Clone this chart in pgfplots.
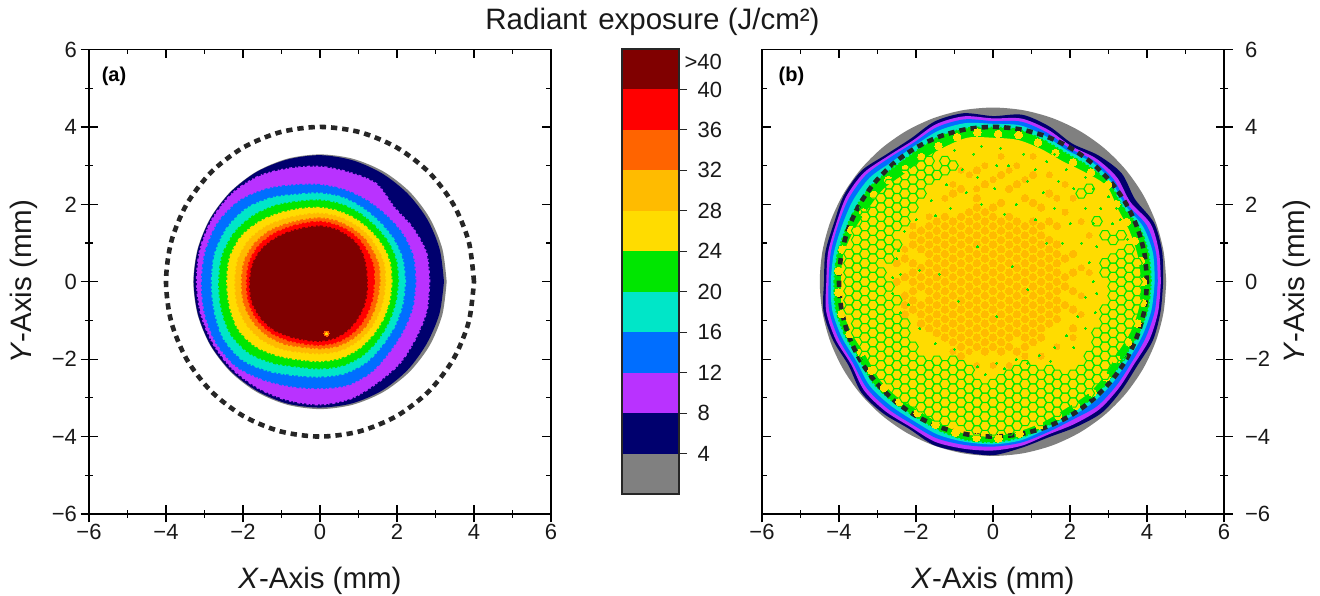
\documentclass[border=0pt]{standalone}
\usepackage{pgfplots}
\usepackage{pgfplotstable}
\usepackage{fontspec}
\setmainfont{Liberation Sans}
\pgfplotsset{compat=1.18}
\definecolor{cG}{RGB}{128,128,128}
\definecolor{cN}{RGB}{0,0,110}
\definecolor{cP}{RGB}{185,50,255}
\definecolor{cB}{RGB}{0,110,255}
\definecolor{cT}{RGB}{0,230,200}
\definecolor{cV}{RGB}{0,230,0}
\definecolor{cY}{RGB}{255,220,0}
\definecolor{cA}{RGB}{255,187,0}
\definecolor{cO}{RGB}{255,100,0}
\definecolor{cR}{RGB}{255,0,0}
\definecolor{cM}{RGB}{128,0,0}
\definecolor{cK}{RGB}{38,38,38}
\pgfdeclareplotmark{hexa}{%
 \pgfpathmoveto{\pgfqpoint{5.33pt}{0pt}}%
 \pgfpathlineto{\pgfqpoint{2.67pt}{4.62pt}}%
 \pgfpathlineto{\pgfqpoint{-2.67pt}{4.62pt}}%
 \pgfpathlineto{\pgfqpoint{-5.33pt}{0pt}}%
 \pgfpathlineto{\pgfqpoint{-2.67pt}{-4.62pt}}%
 \pgfpathlineto{\pgfqpoint{2.67pt}{-4.62pt}}%
 \pgfpathclose\pgfusepathqstroke}
\pgfplotstableread{
a n p b t v y a2 o r m g d
0 3.22 2.84 2.48 2.21 2.03 1.86 1.69 1.55 1.4 1.22 3.29 4
15 3.22 2.86 2.5 2.22 2.05 1.88 1.72 1.58 1.44 1.24 3.29 4
30 3.22 2.78 2.47 2.2 2.04 1.87 1.71 1.58 1.45 1.3 3.29 4
45 3.22 2.72 2.42 2.18 2.02 1.85 1.72 1.6 1.48 1.36 3.29 4
60 3.23 2.92 2.42 2.2 2.04 1.86 1.72 1.6 1.5 1.38 3.29 4
75 3.25 2.92 2.45 2.25 2.07 1.88 1.74 1.62 1.52 1.41 3.29 4
90 3.27 2.97 2.5 2.28 2.1 1.91 1.76 1.64 1.55 1.43 3.29 4
105 3.27 3.03 2.58 2.33 2.14 1.95 1.78 1.65 1.56 1.44 3.29 4
120 3.28 3.15 2.76 2.5 2.27 2.05 1.86 1.72 1.62 1.5 3.29 4
135 3.28 3.22 2.95 2.68 2.42 2.2 2 1.85 1.73 1.6 3.29 4
150 3.28 3.23 3.05 2.78 2.55 2.35 2.13 1.96 1.84 1.72 3.29 4
165 3.28 3.22 3.07 2.82 2.62 2.42 2.2 2.03 1.9 1.8 3.29 4
180 3.28 3.2 3.07 2.81 2.62 2.41 2.2 2.03 1.9 1.82 3.29 4
195 3.28 3.2 3.1 2.84 2.65 2.43 2.22 2.05 1.92 1.84 3.29 4
210 3.28 3.2 3.12 2.9 2.68 2.45 2.2 2.02 1.9 1.8 3.29 4
225 3.27 3.2 3.08 2.85 2.6 2.36 2.12 1.95 1.83 1.73 3.29 4
240 3.26 3.18 2.92 2.66 2.42 2.2 2 1.85 1.73 1.62 3.29 4
255 3.26 3.17 2.8 2.5 2.27 2.08 1.88 1.74 1.65 1.55 3.29 4
270 3.25 3.17 2.75 2.45 2.24 2.05 1.85 1.72 1.63 1.53 3.29 4
285 3.25 3.12 2.76 2.45 2.24 2.04 1.85 1.72 1.62 1.5 3.29 4
300 3.24 3 2.68 2.4 2.2 2 1.82 1.69 1.58 1.44 3.29 4
315 3.22 2.95 2.55 2.3 2.12 1.94 1.78 1.65 1.52 1.36 3.29 4
330 3.2 2.88 2.5 2.25 2.06 1.9 1.73 1.59 1.46 1.3 3.29 4
345 3.21 2.87 2.49 2.22 2.03 1.87 1.7 1.55 1.42 1.25 3.29 4
360 3.22 2.84 2.48 2.21 2.03 1.86 1.69 1.55 1.4 1.22 3.29 4
}\tA
\pgfplotstableread{
a n p b t v y g d
0 4.42 4.36 4.28 4.2 4.1 3.85 4.5 4
10 4.46 4.38 4.3 4.22 4.1 3.82 4.5 4
20 4.45 4.36 4.25 4.15 4.05 3.78 4.5 4
30 4.26 4.12 4.02 3.96 3.88 3.75 4.5 4
40 4.36 4.2 4.1 4.02 3.95 3.85 4.5 4
50 4.26 4.16 4.08 4.02 3.88 3.7 4.5 4
60 4.12 4.05 3.98 3.9 3.82 3.6 4.5 4
70 4.27 4.18 4.1 4 3.88 3.65 4.5 4
80 4.38 4.28 4.2 4.1 3.98 3.72 4.5 4
90 4.28 4.22 4.15 4.08 3.98 3.72 4.5 4
100 4.42 4.34 4.26 4.16 4.02 3.78 4.5 4
110 4.41 4.33 4.25 4.15 4 3.7 4.5 4
120 4.27 4.2 4.14 4.06 3.92 3.65 4.5 4
130 4.3 4.24 4.18 4.06 3.9 3.62 4.5 4
140 4.46 4.38 4.3 4.18 4 3.72 4.5 4
150 4.47 4.4 4.32 4.2 4.04 3.75 4.5 4
160 4.4 4.34 4.28 4.18 4.05 3.85 4.5 4
170 4.42 4.35 4.28 4.2 4.1 3.95 4.5 4
180 4.39 4.33 4.27 4.21 4.12 3.95 4.5 4
190 4.47 4.4 4.32 4.24 4.14 3.98 4.5 4
200 4.42 4.35 4.27 4.18 4.08 3.9 4.5 4
210 4.33 4.26 4.2 4.1 4 3.82 4.5 4
220 4.46 4.37 4.28 4.18 4.06 3.88 4.5 4
230 4.44 4.36 4.27 4.16 4.04 3.88 4.5 4
240 4.38 4.32 4.24 4.14 4.02 3.85 4.5 4
250 4.49 4.4 4.3 4.2 4.08 3.92 4.5 4
260 4.47 4.38 4.28 4.2 4.14 4 4.5 4
270 4.48 4.36 4.26 4.2 4.14 4 4.5 4
280 4.35 4.3 4.22 4.16 4.08 3.92 4.5 4
290 4.27 4.2 4.14 4.05 3.98 3.85 4.5 4
300 4.33 4.24 4.12 4.03 3.94 3.78 4.5 4
310 4.41 4.3 4.2 4.06 3.95 3.8 4.5 4
320 4.36 4.27 4.18 4.06 3.95 3.78 4.5 4
330 4.33 4.24 4.16 4.05 3.92 3.72 4.5 4
340 4.42 4.33 4.22 4.12 4 3.8 4.5 4
350 4.42 4.36 4.27 4.18 4.08 3.85 4.5 4
360 4.42 4.36 4.28 4.2 4.1 3.85 4.5 4
}\tB
\pgfplotstableread[row sep=\\]{
a r\\
0 3.9\\8 3.88\\16 3.83\\24 3.8\\32 3.78\\40 3.9\\48 3.8\\56 3.72\\64 3.7\\72 3.78\\80 3.85\\88 3.82\\96 3.88\\104 3.85\\112 3.78\\120 3.72\\128 3.7\\136 3.78\\144 3.82\\152 3.82\\160 3.92\\168 4\\176 4.02\\184 4.02\\192 4.02\\200 3.96\\208 3.88\\216 3.9\\224 3.94\\232 3.94\\240 3.92\\248 3.98\\256 4.02\\264 4.05\\272 4.05\\280 3.98\\288 3.9\\296 3.85\\304 3.86\\312 3.86\\320 3.84\\328 3.78\\336 3.84\\344 3.9\\352 3.92\\
}\tD
\pgfplotstableread[row sep=\\]{
x y\\
-3.74 0\\-3.74 .24\\-3.74 -.24\\-3.74 .48\\-3.74 -.48\\-3.74 .72\\-3.74 -.72\\
-3.54 .12\\-3.54 -.12\\-3.54 .36\\-3.54 -.36\\-3.54 .6\\-3.54 -.6\\-3.54 .84\\-3.54 -.84\\-3.54 1.08\\-3.54 -1.08\\-3.54 1.32\\-3.54 -1.32\\
-3.33 0\\-3.33 .24\\-3.33 -.24\\-3.33 .48\\-3.33 -.48\\-3.33 .72\\-3.33 -.72\\-3.33 .96\\-3.33 -.96\\-3.33 1.2\\-3.33 -1.2\\-3.33 1.44\\-3.33 -1.44\\-3.33 1.68\\-3.33 -1.68\\-3.33 1.92\\-3.33 -1.92\\
-3.12 .12\\-3.12 -.12\\-3.12 .36\\-3.12 -.36\\-3.12 .6\\-3.12 -.6\\-3.12 .84\\-3.12 -.84\\-3.12 1.08\\-3.12 -1.08\\-3.12 1.32\\-3.12 -1.32\\-3.12 1.56\\-3.12 -1.56\\-3.12 1.8\\-3.12 -1.8\\-3.12 2.04\\-3.12 -2.04\\
-2.91 0\\-2.91 .24\\-2.91 -.24\\-2.91 .72\\-2.91 -.48\\-2.91 .96\\-2.91 -.72\\-2.91 1.2\\-2.91 -.96\\-2.91 1.44\\-2.91 -1.2\\-2.91 1.68\\-2.91 -1.44\\-2.91 1.92\\-2.91 -1.68\\-2.91 2.16\\-2.91 -1.92\\-2.91 2.4\\-2.91 -2.16\\-2.91 -2.4\\
-2.7 -.12\\-2.7 .6\\-2.7 -.6\\-2.7 .84\\-2.7 -.84\\-2.7 1.08\\-2.7 -1.08\\-2.7 1.32\\-2.7 -1.32\\-2.7 1.56\\-2.7 -1.56\\-2.7 1.8\\-2.7 -1.8\\-2.7 2.04\\-2.7 -2.04\\-2.7 2.28\\-2.7 -2.28\\-2.7 2.52\\-2.7 -2.52\\
-2.5 -.48\\-2.5 .96\\-2.5 -.96\\-2.5 1.44\\-2.5 -1.2\\-2.5 1.68\\-2.5 -1.44\\-2.5 1.92\\-2.5 -1.68\\-2.5 2.16\\-2.5 -1.92\\-2.5 2.4\\-2.5 -2.16\\-2.5 2.64\\-2.5 -2.4\\-2.5 2.88\\-2.5 -2.64\\-2.5 -2.88\\
-2.29 1.56\\-2.29 -1.08\\-2.29 1.8\\-2.29 -1.32\\-2.29 2.04\\-2.29 -1.56\\-2.29 2.28\\-2.29 -1.8\\-2.29 2.52\\-2.29 -2.04\\-2.29 2.76\\-2.29 -2.28\\-2.29 3\\-2.29 -2.52\\-2.29 -2.76\\-2.29 -3\\
-2.08 1.92\\-2.08 -1.68\\-2.08 2.16\\-2.08 -1.92\\-2.08 2.4\\-2.08 -2.16\\-2.08 2.64\\-2.08 -2.4\\-2.08 2.88\\-2.08 -2.64\\-2.08 3.12\\-2.08 -2.88\\-2.08 -3.12\\
-1.87 2.28\\-1.87 -2.04\\-1.87 2.52\\-1.87 -2.28\\-1.87 2.76\\-1.87 -2.52\\-1.87 3\\-1.87 -2.76\\-1.87 3.24\\-1.87 -3\\-1.87 -3.24\\
-1.66 2.64\\-1.66 -2.16\\-1.66 2.88\\-1.66 -2.4\\-1.66 3.12\\-1.66 -2.64\\-1.66 3.36\\-1.66 -2.88\\-1.66 -3.12\\-1.66 -3.36\\
-1.46 -2.04\\-1.46 -2.28\\-1.46 -2.52\\-1.46 -2.76\\-1.46 -3\\-1.46 -3.24\\-1.46 -3.48\\
-1.25 -2.16\\-1.25 -2.4\\-1.25 -2.64\\-1.25 -2.88\\-1.25 -3.12\\-1.25 -3.36\\-1.25 -3.6\\
-1.04 -2.04\\-1.04 -2.28\\-1.04 -2.52\\-1.04 -2.76\\-1.04 -3\\-1.04 -3.24\\-1.04 -3.48\\
-.83 -2.16\\-.83 -2.4\\-.83 -2.64\\-.83 -2.88\\-.83 -3.12\\-.83 -3.36\\-.83 -3.6\\
-.62 -2.28\\-.62 -2.52\\-.62 -2.76\\-.62 -3\\-.62 -3.24\\-.62 -3.48\\-.62 -3.72\\
-.42 -2.64\\-.42 -2.88\\-.42 -3.12\\-.42 -3.36\\-.42 -3.6\\-.42 -3.84\\
-.21 -2.76\\-.21 -3\\-.21 -3.24\\-.21 -3.48\\-.21 -3.72\\
0 -2.64\\0 -2.88\\0 -3.12\\0 -3.36\\0 -3.6\\0 -3.84\\
.21 -2.52\\.21 -2.76\\.21 -3\\.21 -3.24\\.21 -3.48\\.21 -3.72\\
.42 -2.4\\.42 -2.64\\.42 -2.88\\.42 -3.12\\.42 -3.36\\.42 -3.6\\.42 -3.84\\
.62 -2.28\\.62 -2.52\\.62 -2.76\\.62 -3\\.62 -3.24\\.62 -3.48\\.62 -3.72\\
.83 -2.16\\.83 -2.4\\.83 -2.64\\.83 -2.88\\.83 -3.12\\.83 -3.36\\.83 -3.6\\
1.04 -2.28\\1.04 -2.52\\1.04 -2.76\\1.04 -3\\1.04 -3.24\\1.04 -3.48\\
1.25 -2.4\\1.25 -2.64\\1.25 -2.88\\1.25 -3.12\\1.25 -3.36\\1.25 -3.6\\
1.46 -2.28\\1.46 -2.52\\1.46 -2.76\\1.46 -3\\1.46 -3.24\\1.46 -3.48\\
1.66 -2.4\\1.66 -2.64\\1.66 -2.88\\1.66 -3.12\\1.66 -3.36\\
1.87 -2.52\\1.87 -2.76\\1.87 -3\\1.87 -3.24\\
2.08 -2.4\\2.08 -2.64\\2.08 -2.88\\2.08 -3.12\\
2.29 -2.28\\2.29 -2.52\\2.29 -2.76\\2.29 -3\\
2.5 -1.92\\2.5 -2.16\\2.5 -2.4\\2.5 -2.64\\2.5 -2.88\\
2.7 -1.32\\2.7 -1.56\\2.7 -1.8\\2.7 -2.04\\2.7 -2.28\\2.7 -2.52\\
2.91 .48\\2.91 .24\\2.91 -.72\\2.91 -.96\\2.91 -1.2\\2.91 -1.44\\2.91 -1.68\\2.91 -1.92\\2.91 -2.16\\2.91 -2.4\\
3.12 .6\\3.12 .36\\3.12 .12\\3.12 -.12\\3.12 -.36\\3.12 -.6\\3.12 -.84\\3.12 -1.08\\3.12 -1.32\\3.12 -1.56\\3.12 -1.8\\3.12 -2.04\\
3.33 .72\\3.33 .48\\3.33 .24\\3.33 0\\3.33 -.24\\3.33 -.48\\3.33 -.72\\3.33 -.96\\3.33 -1.2\\3.33 -1.44\\3.33 -1.68\\3.33 -1.92\\
3.54 .84\\3.54 .6\\3.54 .36\\3.54 .12\\3.54 -.12\\3.54 -.36\\3.54 -.6\\3.54 -.84\\3.54 -1.08\\3.54 -1.32\\
3.74 .48\\3.74 .24\\3.74 0\\3.74 -.24\\3.74 -.48\\3.74 -.72\\
-1.46 2.76\\-1.25 2.88\\-1.25 3.12\\-1.04 3\\2.29 2.28\\2.5 2.4\\2.7 1.56\\2.91 1.2\\3.12 1.08\\3.33 1.2\\
}\tH
\pgfplotstableread[row sep=\\]{
x y\\
-2.29 .12\\-2.29 -.36\\-2.29 .6\\
-2.08 0\\-2.08 .24\\-2.08 -.24\\-2.08 .48\\-2.08 -.72\\-2.08 .96\\
-1.87 .12\\-1.87 -.12\\-1.87 .36\\-1.87 -.6\\-1.87 .84\\-1.87 -.84\\-1.87 1.08\\
-1.66 0\\-1.66 .24\\-1.66 -.24\\-1.66 .48\\-1.66 -.48\\-1.66 .72\\-1.66 -.72\\-1.66 .96\\-1.66 -.96\\-1.66 1.2\\
-1.46 .12\\-1.46 -.12\\-1.46 .36\\-1.46 -.36\\-1.46 .6\\-1.46 -.6\\-1.46 .84\\-1.46 -.84\\-1.46 1.08\\-1.46 -1.08\\-1.46 1.32\\
-1.25 0\\-1.25 .24\\-1.25 -.24\\-1.25 .48\\-1.25 -.48\\-1.25 .72\\-1.25 -.72\\-1.25 .96\\-1.25 -.96\\-1.25 1.2\\-1.25 -1.2\\-1.25 1.44\\
-1.04 .12\\-1.04 -.12\\-1.04 .36\\-1.04 -.36\\-1.04 .6\\-1.04 -.6\\-1.04 .84\\-1.04 -.84\\-1.04 1.08\\-1.04 -1.08\\-1.04 1.32\\-1.04 -1.32\\-1.04 1.56\\
-.83 0\\-.83 .24\\-.83 -.24\\-.83 .48\\-.83 -.48\\-.83 .72\\-.83 -.72\\-.83 .96\\-.83 -.96\\-.83 1.2\\-.83 -1.2\\-.83 1.44\\-.83 -1.44\\
-.62 .12\\-.62 -.12\\-.62 .36\\-.62 -.36\\-.62 .6\\-.62 -.6\\-.62 .84\\-.62 -.84\\-.62 1.08\\-.62 -1.08\\-.62 1.32\\-.62 -1.32\\-.62 1.56\\-.62 -1.56\\
-.42 0\\-.42 .24\\-.42 -.24\\-.42 .48\\-.42 -.48\\-.42 .72\\-.42 -.72\\-.42 .96\\-.42 -.96\\-.42 1.2\\-.42 -1.2\\-.42 1.44\\-.42 -1.44\\-.42 1.68\\-.42 -1.68\\
-.21 .12\\-.21 -.12\\-.21 .36\\-.21 -.36\\-.21 .6\\-.21 -.6\\-.21 .84\\-.21 -.84\\-.21 1.08\\-.21 -1.08\\-.21 1.32\\-.21 -1.32\\-.21 1.56\\-.21 -1.56\\
0 0\\0 .24\\0 -.24\\0 .48\\0 -.48\\0 .72\\0 -.72\\0 .96\\0 -.96\\0 1.2\\0 -1.2\\0 1.44\\0 -1.44\\0 1.68\\0 -1.68\\
.21 .12\\.21 -.12\\.21 .36\\.21 -.36\\.21 .6\\.21 -.6\\.21 .84\\.21 -.84\\.21 1.08\\.21 -1.08\\.21 1.32\\.21 -1.32\\.21 1.56\\.21 -1.56\\
.42 0\\.42 .24\\.42 -.24\\.42 .48\\.42 -.48\\.42 .72\\.42 -.72\\.42 .96\\.42 -.96\\.42 1.2\\.42 -1.2\\.42 1.44\\.42 -1.44\\
.62 .12\\.62 -.12\\.62 .36\\.62 -.36\\.62 .6\\.62 -.6\\.62 .84\\.62 -.84\\.62 1.08\\.62 -1.08\\.62 1.32\\.62 -1.32\\
.83 0\\.83 .24\\.83 -.24\\.83 .48\\.83 -.48\\.83 .72\\.83 -.72\\.83 .96\\.83 -.96\\.83 1.2\\.83 -1.2\\.83 1.44\\.83 -1.44\\
1.04 .12\\1.04 -.12\\1.04 .36\\1.04 -.36\\1.04 .6\\1.04 -.6\\1.04 .84\\1.04 -.84\\1.04 1.08\\1.04 -1.08\\1.04 1.32\\1.04 -1.32\\
1.25 0\\1.25 .24\\1.25 -.24\\1.25 .48\\1.25 -.48\\1.25 .72\\1.25 -.72\\1.25 .96\\1.25 -.96\\1.25 1.2\\1.25 -1.2\\
1.46 .12\\1.46 -.12\\1.46 .36\\1.46 -.36\\1.46 .6\\1.46 -.6\\1.46 .84\\1.46 -.84\\
1.66 0\\1.66 .24\\1.66 -.24\\1.66 .48\\1.66 -.48\\1.66 .72\\1.66 -.72\\
.21 2.04\\-.42 2.16\\1.04 2.04\\-1.04 2.28\\1.46 1.56\\-.62 1.8\\2.08 .72\\2.08 -.24\\2.08 -1.2\\-2.29 -.84\\-.83 -1.92\\.62 -1.8\\
-2.5 .48\\-2.5 0\\-2.29 -.6\\-2.08 -.48\\-1.87 -1.08\\-1.66 -1.2\\-1.46 -1.32\\-1.25 -1.44\\-1.04 -1.56\\-.83 -1.68\\-.21 -1.8\\.21 -1.8\\.42 -1.68\\.83 -1.68\\1.04 -1.56\\1.25 -1.44\\1.46 -1.08\\1.66 -.96\\1.87 -.6\\1.87 .12\\1.87 .6\\1.87 -.12\\1.66 .96\\1.46 1.08\\1.25 1.44\\1.04 1.56\\.62 1.56\\.42 1.68\\0 1.92\\-.21 1.8\\-.42 1.92\\-.83 1.68\\-1.25 1.68\\-1.46 1.56\\-1.66 1.44\\-1.87 1.32\\-2.08 1.2\\2.08 .24\\2.08 -.72\\-.83 2.4\\.42 2.4\\.83 2.16\\-.21 2.52\\1.25 1.92\\1.66 1.44\\.21 2.76\\.62 2.52\\-.42 2.88\\1.04 2.76\\1.46 2.28\\
}\tC
\pgfplotstableread[row sep=\\]{
x y\\
-.21 3\\.21 3.24\\.62 3\\1.04 3.24\\1.46 2.76\\1.87 2.52\\2.08 2.16\\1.66 2.16\\2.29 1.56\\2.5 1.2\\1.87 1.8\\-.62 2.76\\-.83 2.88\\-1.04 2.52\\-1.25 2.16\\-1.66 1.68\\-2.08 1.44\\-2.29 .84\\-.42 2.4\\0 2.64\\.42 2.88\\.83 2.64\\2.29 .36\\2.5 .24\\2.29 -.36\\2.29 -.84\\2.08 -1.44\\1.66 -1.68\\1.25 -1.92\\.83 -1.92\\.42 -2.16\\0 -2.16\\-.42 -2.16\\-.62 -1.8\\-1.04 -1.8\\
}\tE
\pgfplotstableread[row sep=\\]{
x y\\
-1.9 .3\\-1.5 1.7\\-1.1 1.9\\-.7 2.3\\-.4 2.7\\.05 2.4\\.4 3\\.9 2.6\\1.3 2.3\\1.6 1.9\\2 1.5\\2.3 1\\2.5 .5\\2.6 0\\2.4 -.4\\2.2 -.9\\1.9 -1.4\\1.6 -1.7\\1.2 -1.9\\.6 -2\\.1 -2.1\\-.4 -2.2\\-1 -1.75\\-1.5 -1.6\\-1.9 -1.2\\-2.2 -.6\\-2.4 .2\\-2.45 .8\\-1.4 .2\\-.9 -.5\\-.4 .9\\.1 -.9\\.5 .4\\.9 -.2\\1.4 1\\1.1 1.6\\.3 1.75\\-.3 2\\1.8 1\\2.8 1.9\\3 2.2\\2.4 2.7\\1.9 2.9\\1.4 3.1\\.8 3.3\\.2 3.45\\-.5 3.3\\-1 3.4\\3.3 1.6\\3.5 1.1\\
2.6 1.5\\2.7 .9\\2.4 1.9\\2.1 2.4\\1.7 2.6\\1.1 2.9\\.6 2\\.1 3\\-.3 3.5\\-.8 2.9\\-1.2 2.5\\-1.6 2.1\\-2 1.6\\-2.3 1.3\\-2.5 .6\\-2.6 .1\\-2.6 -.3\\-2.4 -.8\\2.7 -.3\\2.65 -.8\\2.4 -1.2\\2.1 -1.7\\1.5 -2.05\\.9 -2.1\\.3 -2.25\\-.2 -2.4\\3.1 1.5\\3.2 1.9\\2.6 2.4\\2.2 3\\1.6 3.3\\
}\tS
\pgfplotsset{
 base/.style={scale only axis,width=462pt,height=464.5pt,xmin=-6,xmax=6,ymin=-6,ymax=6,
  xtick={-6,-4,...,6},ytick={-6,-4,...,6},minor x tick num=1,minor y tick num=1,
  axis line style={line width=1.5pt,black},
  major tick style={line width=1.3pt,black},minor tick style={line width=1.1pt,black}},
 crossed/.style={base,tick align=center,major tick length=17pt,minor tick length=8pt,
  xticklabels={−6,−4,−2,0,2,4,6},
  ticklabel style={font=\fontsize{22}{24}\selectfont,text=black!90},
  xticklabel style={yshift=2pt},
  xlabel={\textit{X}-Axis (mm)},ylabel={\textit{Y}-Axis (mm)},
  label style={font=\fontsize{29.5}{31}\selectfont,text=black!90}},
 inner/.style={base,tick align=inside,major tick length=9pt,minor tick length=5pt,xticklabels={},yticklabels={}},
 lvl/.style={data cs=polar,smooth,draw=none,fill=#1,forget plot},
 rough/.style={data cs=polar,smooth,draw=#1,fill=#1,line width=2pt,dash pattern=on 2.3pt off 1.7pt on 1.4pt off 2.9pt on 3.1pt off 2pt on 1.6pt off 2.6pt,forget plot},
 dots/.style={only marks,mark=*,mark size=#1},
}
\begin{document}
\begin{tikzpicture}[x=1pt,y=1pt]
\useasboundingbox (0,0) rectangle (1320,596);
% panel (a)
\begin{axis}[crossed,at={(89pt,82pt)},anchor=south west,xtick pos=bottom,ytick pos=left,
  yticklabels={−6,−4,−2,0,2,4,6},
  ylabel style={at={(axis description cs:0,0.5)},yshift=48pt},xlabel style={yshift=-21pt}]
\addplot[lvl=cG] table[x=a,y=g]{\tA};
\addplot[lvl=cN] table[x=a,y=n]{\tA};
\addplot[rough=cP] table[x=a,y=p]{\tA};
\addplot[rough=cB] table[x=a,y=b]{\tA};
\addplot[rough=cT] table[x=a,y=t]{\tA};
\addplot[rough=cV] table[x=a,y=v]{\tA};
\addplot[rough=cY] table[x=a,y=y]{\tA};
\addplot[rough=cA] table[x=a,y=a2]{\tA};
\addplot[rough=cO] table[x=a,y=o]{\tA};
\addplot[rough=cR] table[x=a,y=r]{\tA};
\addplot[rough=cM] table[x=a,y=m]{\tA};
\addplot[dots=2.6pt,mark options={draw=cO,fill=cO,line width=0pt}] coordinates {(0.17,-1.34)};
\addplot[dots=1.3pt,mark options={draw=cY,fill=cY,line width=0pt}] coordinates {(0.17,-1.34)};
\addplot[data cs=polar,smooth,cK,line width=4.6pt,dash pattern=on 6.3pt off 4.95pt] table[x=a,y=d]{\tA};
\end{axis}
\begin{axis}[inner,at={(89pt,82pt)},anchor=south west,xtick pos=top,ytick pos=right]
\end{axis}
\node[font=\fontsize{20}{22}\selectfont\bfseries,anchor=center] at (114,520) {(a)};
% colour bar
\begin{axis}[scale only axis,width=57pt,height=445pt,at={(622pt,102pt)},anchor=south west,
  xmin=0,xmax=1,ymin=0,ymax=44,xtick=\empty,
  ytick={4,8,...,40},yticklabels={4,8,12,16,20,24,28,32,36,40},
  ytick pos=right,tick align=outside,major tick length=8pt,
  major tick style={line width=1pt,black!85},
  axis line style={line width=1.2pt,black!85},axis on top,
  yticklabel style={anchor=west,xshift=7pt,font=\fontsize{22}{24}\selectfont,text=black!90},
  extra y ticks={42.7},extra y tick labels={>40},
  extra y tick style={major tick length=0pt,yticklabel style={xshift=-5pt}}]
\addplot[fill=cG,draw=none] coordinates {(0,0)(1,0)(1,4)(0,4)} --cycle;
\addplot[fill=cN,draw=none] coordinates {(0,4)(1,4)(1,8)(0,8)} --cycle;
\addplot[fill=cP,draw=none] coordinates {(0,8)(1,8)(1,12)(0,12)} --cycle;
\addplot[fill=cB,draw=none] coordinates {(0,12)(1,12)(1,16)(0,16)} --cycle;
\addplot[fill=cT,draw=none] coordinates {(0,16)(1,16)(1,20)(0,20)} --cycle;
\addplot[fill=cV,draw=none] coordinates {(0,20)(1,20)(1,24)(0,24)} --cycle;
\addplot[fill=cY,draw=none] coordinates {(0,24)(1,24)(1,28)(0,28)} --cycle;
\addplot[fill=cA,draw=none] coordinates {(0,28)(1,28)(1,32)(0,32)} --cycle;
\addplot[fill=cO,draw=none] coordinates {(0,32)(1,32)(1,36)(0,36)} --cycle;
\addplot[fill=cR,draw=none] coordinates {(0,36)(1,36)(1,40)(0,40)} --cycle;
\addplot[fill=cM,draw=none] coordinates {(0,40)(1,40)(1,44)(0,44)} --cycle;
\end{axis}
% panel (b)
\begin{axis}[crossed,at={(762pt,82pt)},anchor=south west,xtick pos=bottom,ytick pos=right,
  yticklabels={−6,−4,−2,0,2,4,6},yticklabel style={xshift=9pt},
  ylabel style={at={(axis description cs:1,0.5)},rotate=0,yshift=-56pt},xlabel style={yshift=-21pt}]
\addplot[lvl=cG] table[x=a,y=g]{\tB};
\addplot[lvl=cN] table[x=a,y=n]{\tB};
\addplot[lvl=cP] table[x=a,y=p]{\tB};
\addplot[lvl=cB] table[x=a,y=b]{\tB};
\addplot[lvl=cT] table[x=a,y=t]{\tB};
\addplot[rough=cV] table[x=a,y=v]{\tB};
\addplot[lvl=cY] table[x=a,y=y]{\tB};
\addplot[data cs=polar,dots=3.8pt,mark options={draw=cY,fill=cY,line width=0pt}] table[x=a,y=r]{\tD};
\addplot[dots=3.7pt,mark options={draw=cA,fill=cA,line width=0pt}] table[x=x,y=y]{\tC};
\addplot[dots=3pt,mark options={draw=cA,fill=cA,line width=0pt}] table[x=x,y=y]{\tE};
\addplot[only marks,mark=hexa,mark options={draw=cV,line width=1pt}] table[x=x,y=y]{\tH};
\addplot[dots=1pt,mark options={draw=cV,fill=cV,line width=0pt}] table[x=x,y=y]{\tS};
\addplot[data cs=polar,smooth,cK,line width=4.6pt,dash pattern=on 6.3pt off 4.95pt] table[x=a,y=d]{\tB};
\end{axis}
\begin{axis}[inner,at={(762pt,82pt)},anchor=south west,xtick pos=top,ytick pos=left]
\end{axis}
\node[font=\fontsize{20}{22}\selectfont\bfseries,anchor=center] at (791.5,520) {(b)};
\node[font=\fontsize{29.5}{31}\selectfont,text=black!90,anchor=center] at (652.5,574) {Radiant\hspace{3pt} exposure (J/cm²)};
\end{tikzpicture}
\end{document}
